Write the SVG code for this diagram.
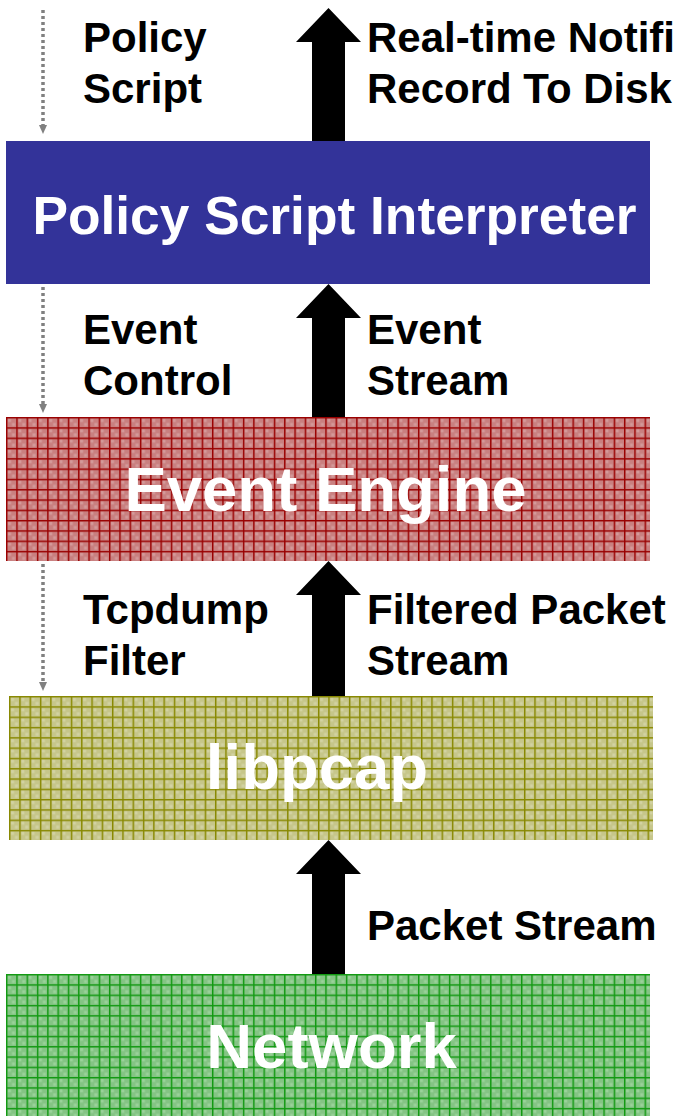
<svg xmlns="http://www.w3.org/2000/svg" width="677" height="1116" viewBox="0 0 677 1116">
<style>
.lbl{font-family:"Liberation Sans",Arial,sans-serif;font-weight:bold;font-size:42px;fill:#000}
.box{font-family:"Liberation Sans",Arial,sans-serif;font-weight:bold;fill:#fff;text-anchor:middle}
.dot{stroke:#808080;stroke-width:3.5;stroke-dasharray:3 3;fill:none}
.dhead{fill:#808080}
.big{fill:#000}
</style>
<defs>
<pattern id="pRed" patternUnits="userSpaceOnUse" x="6" y="417" width="10.3" height="10.3">
<rect width="10.3" height="10.3" fill="#c98080"/>
<rect x="2" y="2" width="3" height="3" fill="#d49a9a"/>
<rect x="6" y="6" width="3" height="3" fill="#d49a9a"/>
<rect x="0" y="0" width="10.3" height="1.4" fill="#990000"/>
<rect x="0" y="0" width="1.4" height="10.3" fill="#990000"/>
</pattern>
<pattern id="pOlive" patternUnits="userSpaceOnUse" x="9" y="696" width="10.3" height="10.3">
<rect width="10.3" height="10.3" fill="#c6c68a"/>
<rect x="2" y="2" width="3" height="3" fill="#d2d2a2"/>
<rect x="6" y="6" width="3" height="3" fill="#d2d2a2"/>
<rect x="0" y="0" width="10.3" height="1.4" fill="#888800"/>
<rect x="0" y="0" width="1.4" height="10.3" fill="#888800"/>
</pattern>
<pattern id="pGreen" patternUnits="userSpaceOnUse" x="6" y="974" width="10.3" height="10.3">
<rect width="10.3" height="10.3" fill="#84c484"/>
<rect x="2" y="2" width="3" height="3" fill="#9ad29a"/>
<rect x="6" y="6" width="3" height="3" fill="#9ad29a"/>
<rect x="0" y="0" width="10.3" height="1.4" fill="#119911"/>
<rect x="0" y="0" width="1.4" height="10.3" fill="#119911"/>
</pattern>
</defs>

<g id="node-interpreter">
<rect x="6" y="141" width="644" height="143" fill="#333399"/>
<text class="box" x="334.5" y="234" font-size="53.3">Policy Script Interpreter</text>
</g>
<g id="node-event-engine">
<rect x="6" y="417" width="644" height="144" fill="url(#pRed)"/>
<text class="box" x="325.5" y="511" font-size="63.5">Event Engine</text>
</g>
<g id="node-libpcap">
<rect x="9" y="696" width="644" height="144" fill="url(#pOlive)"/>
<text class="box" x="317" y="789" font-size="63.5">libpcap</text>
</g>
<g id="node-network">
<rect x="6" y="974" width="644" height="142" fill="url(#pGreen)"/>
<text class="box" x="331.5" y="1068" font-size="63.5">Network</text>
</g>

<g id="connectors">
<path class="dot" d="M43 10V126"/>
<polygon class="dhead" points="39,125 47,125 43,134"/>
<path class="dot" d="M43 287V404"/>
<polygon class="dhead" points="39,404 47,404 43,413"/>
<path class="dot" d="M43 564V682"/>
<polygon class="dhead" points="39,682 47,682 43,691"/>

<polygon class="big" points="312,141 312,42 296,42 328.5,8 361,42 345,42 345,141"/>
<polygon class="big" points="312,417 312,318 296,318 328.5,284 361,318 345,318 345,417"/>
<polygon class="big" points="312,696 312,595 296,595 328.5,561 361,595 345,595 345,696"/>
<polygon class="big" points="312,974 312,874 296,874 328.5,840 361,874 345,874 345,974"/>
</g>

<g id="labels">
<text class="lbl" x="83" y="52">Policy</text>
<text class="lbl" x="83" y="103">Script</text>
<text class="lbl" x="367" y="52">Real-time Notifi</text>
<text class="lbl" x="367" y="103">Record To Disk</text>
<text class="lbl" x="83" y="344">Event</text>
<text class="lbl" x="83" y="395">Control</text>
<text class="lbl" x="367" y="344">Event</text>
<text class="lbl" x="367" y="395">Stream</text>
<text class="lbl" x="83" y="624">Tcpdump</text>
<text class="lbl" x="83" y="675">Filter</text>
<text class="lbl" x="367" y="624">Filtered Packet</text>
<text class="lbl" x="367" y="675">Stream</text>
<text class="lbl" x="367" y="940">Packet Stream</text>
</g>
</svg>
